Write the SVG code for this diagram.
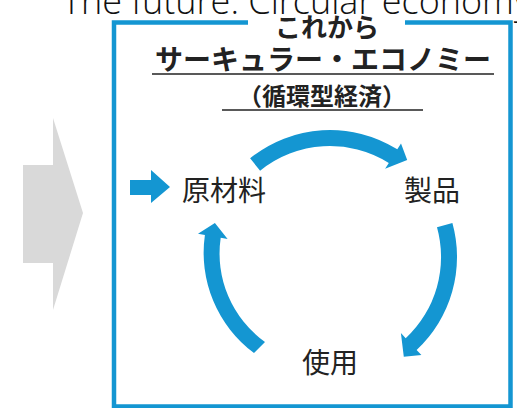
<svg xmlns="http://www.w3.org/2000/svg" width="517" height="408" viewBox="0 0 517 408">
<style>
.blue{fill:#1496d2}
.jp{font-family:"Noto Sans CJK JP","Noto Sans",sans-serif;fill:#222}
.b{font-weight:bold}
.lbl{font-size:28px}
.ul{stroke:#222;stroke-width:1.6}
</style>
<rect width="517" height="408" fill="#fff"/>
<text x="62" y="14" font-family="Open Sans, sans-serif" font-weight="300" font-size="36" fill="#111">The future: Circular economy</text>
<g id="gray-arrow"><polygon points="23,165 53,165 53,118 83,213 53,310 53,263 23,263" fill="#d9d9d9"/></g>
<g id="frame">
<path d="M248,22.5 H114 V406.5 H510.5 V22.5 H405" fill="none" stroke="#1496d2" stroke-width="4.5"/>
<text class="jp b" x="327" y="37" font-size="26" text-anchor="middle">これから</text>
<text class="jp b" x="323" y="70" font-size="28" text-anchor="middle">サーキュラー・エコノミー</text>
<line class="ul" x1="152" y1="74" x2="494" y2="74"/>
<text class="jp b" x="322" y="105" font-size="24" text-anchor="middle">（循環型経済）</text>
<line class="ul" x1="222" y1="110" x2="423" y2="110"/>
</g>
<g id="connectors">
<polygon class="blue" points="130,180 151,180 151,170 170,187 151,203 151,195 130,195"/>
<path class="blue" d="M250.1,158.3 A127,127 0 0 1 397.3,149.3 L401,143.4 L407.2,160 L385.1,168.8 L388.8,162.9 A111,111 0 0 0 260.1,170.7 Z"/>
<path class="blue" d="M452.4,223.1 A127,127 0 0 1 416.6,349.9 L421.4,355 L403.8,356.7 L400.9,333.1 L405.7,338.2 A111,111 0 0 0 437,227.3 Z"/>
<path class="blue" d="M254,353 A125,125 0 0 1 204.9,235 L198,233.7 L214.9,222.9 L227.6,238.9 L220.7,237.7 A109,109 0 0 0 265,342 Z"/>
</g>
<g id="node-raw"><text class="jp lbl" x="182" y="201">原材料</text></g>
<g id="node-product"><text class="jp lbl" x="404" y="201">製品</text></g>
<g id="node-use"><text class="jp lbl" x="302" y="373">使用</text></g>
</svg>
